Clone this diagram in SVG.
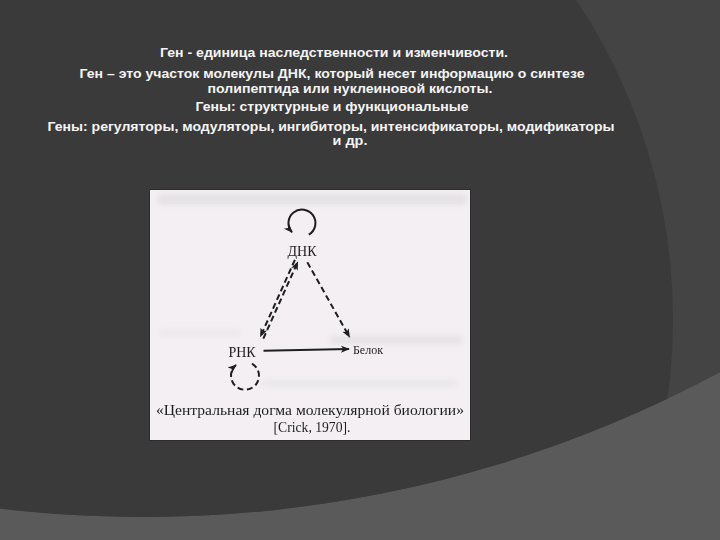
<svg xmlns="http://www.w3.org/2000/svg" width="720" height="540" viewBox="0 0 720 540">
<defs>
<style>
.hd{font-family:"Liberation Sans",Arial,sans-serif;font-weight:bold;font-size:13.5px;fill:#f4f4f4;text-anchor:middle}
.sc{font-family:"Liberation Serif","Times New Roman",serif;fill:#1e1e1e;text-anchor:middle}
.ink{stroke:#1e1e1e;fill:none;stroke-width:2}
.dash{stroke-dasharray:6 3.5}
</style>
<clipPath id="cA"><circle cx="144" cy="-701" r="1218"/></clipPath>
<filter id="blur" x="-10%" y="-50%" width="120%" height="200%"><feGaussianBlur stdDeviation="2.5"/></filter>
<marker id="ah" viewBox="0 0 10 10" refX="9" refY="5" markerWidth="4.5" markerHeight="4.5" markerUnits="strokeWidth" orient="auto">
<path d="M0,1 L10,5 L0,9 L2.5,5 Z" fill="#1e1e1e"/>
</marker>
</defs>
<g id="background">
<rect width="720" height="540" fill="#5a5a5a"/>
<circle cx="144" cy="-701" r="1218" fill="#444444"/>
<circle cx="95" cy="320" r="578" fill="#3a3a3a" clip-path="url(#cA)"/>
</g>
<g id="heading">
<text class="hd" x="334" y="57" textLength="348" lengthAdjust="spacingAndGlyphs">Ген - единица наследственности и изменчивости.</text>
<text class="hd" x="332" y="78" textLength="505" lengthAdjust="spacingAndGlyphs">Ген – это участок молекулы ДНК, который несет информацию о синтезе</text>
<text class="hd" x="350" y="93" textLength="285" lengthAdjust="spacingAndGlyphs">полипептида или нуклеиновой кислоты.</text>
<text class="hd" x="332" y="111" textLength="273" lengthAdjust="spacingAndGlyphs">Гены: структурные и функциональные</text>
<text class="hd" x="331" y="131" textLength="567" lengthAdjust="spacingAndGlyphs">Гены: регуляторы, модуляторы, ингибиторы, интенсификаторы, модификаторы</text>
<text class="hd" x="350" y="145" textLength="35" lengthAdjust="spacingAndGlyphs">и др.</text>
</g>
<g id="inset">
<rect x="149" y="189" width="322" height="252" fill="#2c2c2c"/>
<rect x="150" y="190" width="320" height="250" fill="#f3eff3"/>
<g filter="url(#blur)" fill="#dcd8dc" opacity="0.55">
<rect x="158" y="194" width="308" height="11"/>
<rect x="330" y="336" width="132" height="8"/>
<rect x="262" y="380" width="195" height="7" opacity="0.6"/>
<rect x="160" y="330" width="80" height="6" opacity="0.5"/>
</g>
</g>
<g id="connectors">
<path class="ink" d="M308.8,234.7 A13.5,13.5 0 1 0 292,232.2" marker-end="url(#ah)"/>
<line class="ink dash" x1="294.9" y1="259.8" x2="260.5" y2="336.5" marker-end="url(#ah)"/>
<line class="ink dash" x1="263.3" y1="338.7" x2="297.7" y2="262" marker-end="url(#ah)"/>
<line class="ink dash" x1="307.3" y1="262.3" x2="349.5" y2="337" stroke-dasharray="7 4" marker-end="url(#ah)"/>
<line class="ink" x1="263.5" y1="350.7" x2="349" y2="349" marker-end="url(#ah)"/>
<path class="ink dash" d="M252,363.6 A14,14 0 1 1 236,365" stroke-dasharray="6 4" marker-end="url(#ah)"/>
</g>
<g id="node-dnk"><text class="sc" x="302" y="256" font-size="14">ДНК</text></g>
<g id="node-rnk"><text class="sc" x="242" y="357" font-size="14">РНК</text></g>
<g id="node-protein"><text class="sc" x="368" y="354" font-size="12">Белок</text></g>
<g id="caption">
<text class="sc" x="310" y="415" font-size="15" textLength="308" lengthAdjust="spacingAndGlyphs">«Центральная догма молекулярной биологии»</text>
<text class="sc" x="312" y="432" font-size="14" textLength="77" lengthAdjust="spacingAndGlyphs">[Crick, 1970].</text>
</g>
</svg>
